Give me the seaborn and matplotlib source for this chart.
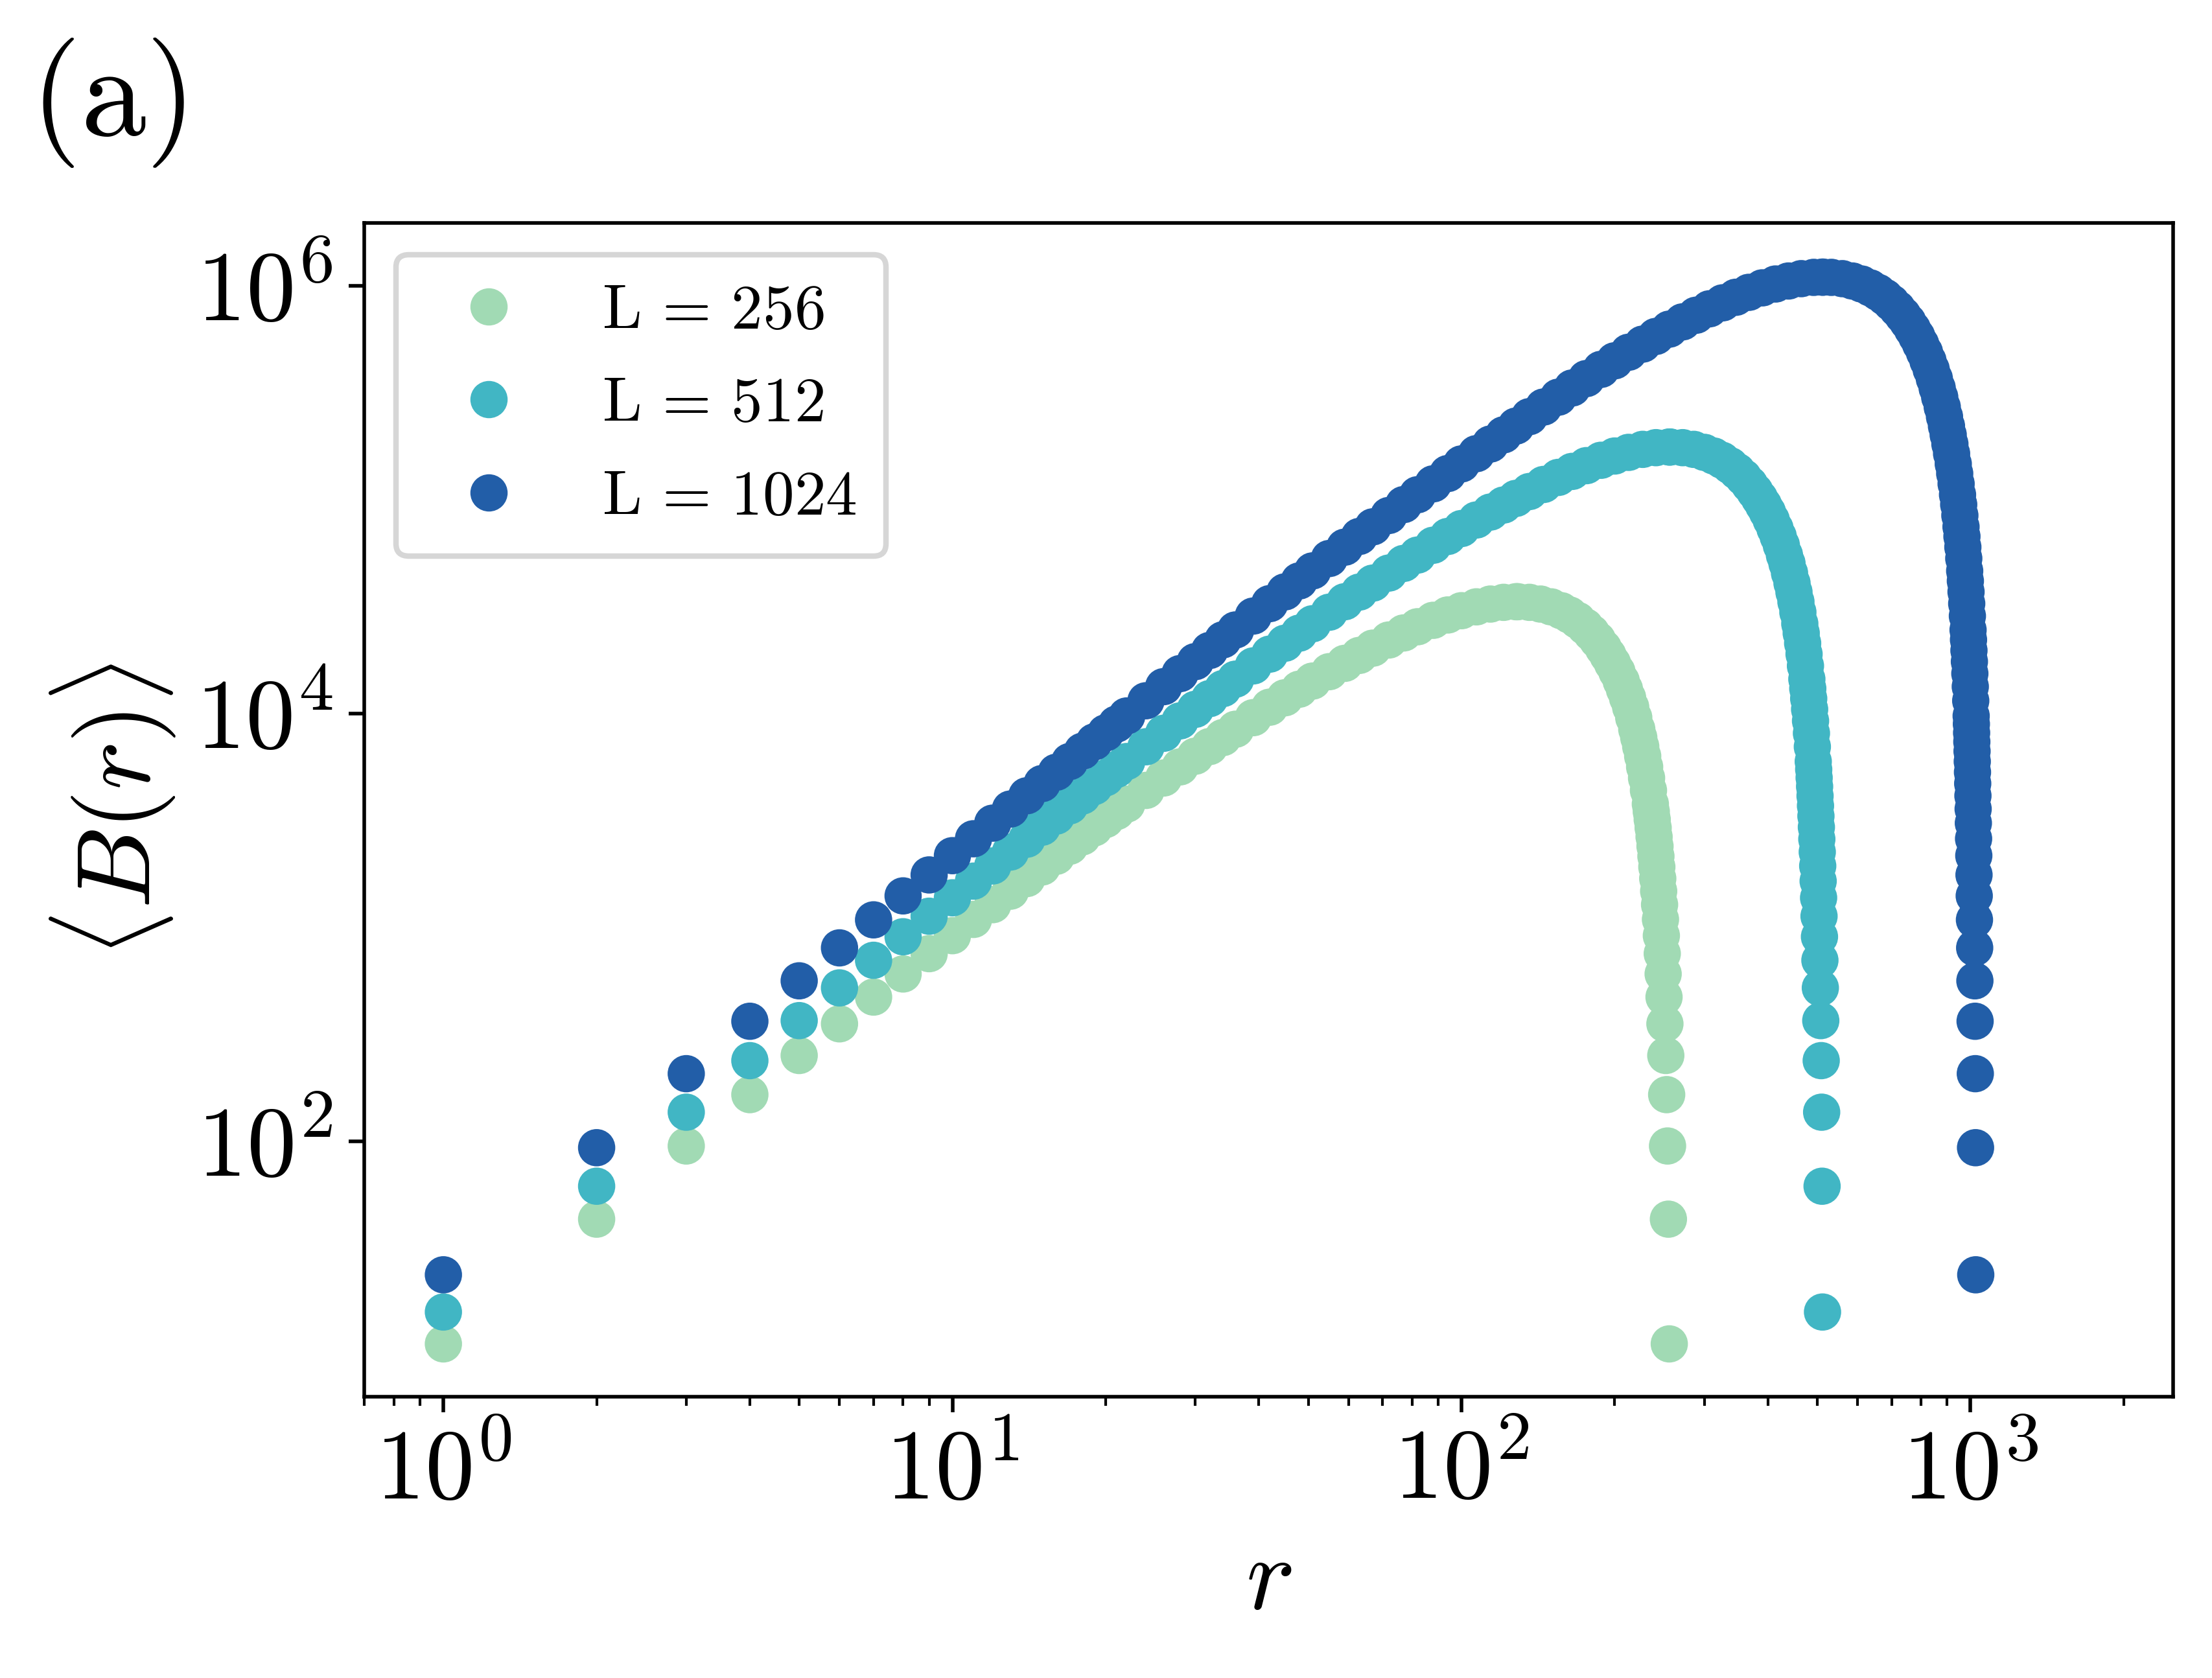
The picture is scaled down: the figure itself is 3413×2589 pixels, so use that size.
import numpy as np
import pandas as pd
import matplotlib
matplotlib.use("Agg")
import matplotlib.pyplot as plt
from matplotlib.lines import Line2D
from matplotlib.ticker import NullLocator
import seaborn as sns

# ---------------- data ----------------
sizes = [256, 512, 1024]
labels = [r'$\mathrm{L}\,=\,256$', r'$\mathrm{L}\,=\,512$', r'$\mathrm{L}\,=\,1024$']
colors = ['#a1dab4', '#41b6c4', '#225ea8']

# distance from the nearer end of the chain (k = r on the rising side,
# k = L + 1 - r on the falling side; the profile is mirror-symmetric)
k_grid = [1, 2, 3, 4, 5, 6, 7, 8, 9, 10, 11, 12, 13, 14, 15, 16, 17, 18, 19, 20,
          21, 22, 24, 26, 28, 30, 32, 34, 36, 39, 42, 45, 48, 51, 55, 59, 63, 67,
          72, 77, 82, 88, 94, 100, 107, 114, 121, 128, 136, 145, 155, 165, 176,
          188, 200, 213, 227, 241, 256, 272, 289, 307, 326, 346, 367, 390, 414,
          439, 465, 492, 512]

# log10 <B> values
logB_256 = [1.054, 1.637, 1.979, 2.219, 2.402, 2.550, 2.675, 2.783, 2.878, 2.962,
            3.038, 3.107, 3.170, 3.229, 3.283, 3.333, 3.380, 3.424, 3.466, 3.505,
            3.542, 3.577, 3.641, 3.699, 3.751, 3.801, 3.846, 3.888, 3.927, 3.981,
            4.030, 4.074, 4.114, 4.152, 4.196, 4.235, 4.272, 4.306, 4.344, 4.377,
            4.406, 4.436, 4.461, 4.481, 4.499, 4.512, 4.520, 4.523]

logB_512 = [1.203, 1.791, 2.137, 2.378, 2.565, 2.718, 2.847, 2.957, 3.053, 3.139,
            3.217, 3.288, 3.353, 3.413, 3.469, 3.521, 3.569, 3.615, 3.659, 3.700,
            3.739, 3.776, 3.845, 3.908, 3.966, 4.020, 4.070, 4.117, 4.161, 4.223,
            4.278, 4.329, 4.376, 4.420, 4.474, 4.523, 4.568, 4.610, 4.657, 4.702,
            4.741, 4.787, 4.828, 4.865, 4.905, 4.942, 4.975, 5.006, 5.038, 5.071,
            5.104, 5.132, 5.159, 5.184, 5.204, 5.221, 5.235, 5.243, 5.246]

logB_1024 = [1.377, 1.971, 2.317, 2.562, 2.751, 2.905, 3.036, 3.148, 3.246, 3.336,
             3.415, 3.488, 3.554, 3.616, 3.673, 3.726, 3.776, 3.824, 3.868, 3.910,
             3.951, 3.989, 4.060, 4.126, 4.187, 4.243, 4.295, 4.345, 4.391, 4.456,
             4.514, 4.569, 4.620, 4.667, 4.725, 4.778, 4.828, 4.873, 4.926, 4.977,
             5.023, 5.074, 5.122, 5.167, 5.215, 5.260, 5.303, 5.344, 5.388, 5.433,
             5.479, 5.522, 5.566, 5.609, 5.649, 5.689, 5.727, 5.763, 5.797, 5.831,
             5.862, 5.892, 5.920, 5.946, 5.969, 5.990, 6.008, 6.022, 6.033, 6.039,
             6.040]

profiles = [logB_256, logB_512, logB_1024]

frames = []
for L, lab, prof in zip(sizes, labels, profiles):
    k = np.array(k_grid[:len(prof)], dtype=float)
    B = 10.0 ** np.array(prof)
    r = np.concatenate([k, L + 1 - k])
    frames.append(pd.DataFrame({'r': r, 'B': np.concatenate([B, B]), 'series': lab}))
df = pd.concat(frames, ignore_index=True)

# ---------------- style ----------------
plt.rcParams['font.family'] = ['cmr10', 'DejaVu Serif']
plt.rcParams['mathtext.fontset'] = 'cm'
plt.rcParams['axes.formatter.use_mathtext'] = True
plt.rcParams['axes.unicode_minus'] = False

DPI = 500
fig = plt.figure(figsize=(3413 / DPI, 2589 / DPI), dpi=DPI)
ax = fig.add_axes([0.1648, 0.1676, 0.8176, 0.6994])
ax.set_xscale('log')
ax.set_yscale('log')

sns.scatterplot(data=df, x='r', y='B', hue='series', hue_order=labels,
                palette=colors, s=68.6, linewidth=0, edgecolor='none',
                legend=False, ax=ax)

ax.set_xlim(0.7, 2500)
ax.set_ylim(6.41, 1.96e6)
ax.set_yticks([1e2, 1e4, 1e6])
ax.yaxis.set_minor_locator(NullLocator())
ax.tick_params(axis='both', which='major', labelsize=22)

ax.set_xlabel(r'$r$', fontsize=23)
ax.set_ylabel(r'$\langle B(r)\rangle$', fontsize=23)

handles = [Line2D([], [], marker='o', linestyle='none', markersize=8.28,
                  markerfacecolor=c, markeredgewidth=0, color=c) for c in colors]
leg = ax.legend(handles, labels, loc='upper left', fontsize=14, frameon=True,
                labelspacing=0.58, borderpad=0.47)
leg.get_frame().set_linewidth(1.22)

fig.text(0.0135, 0.9193, r'$\mathrm{(a)}$', fontsize=29, ha='left', va='baseline')

fig.savefig('out.png', dpi=DPI)
